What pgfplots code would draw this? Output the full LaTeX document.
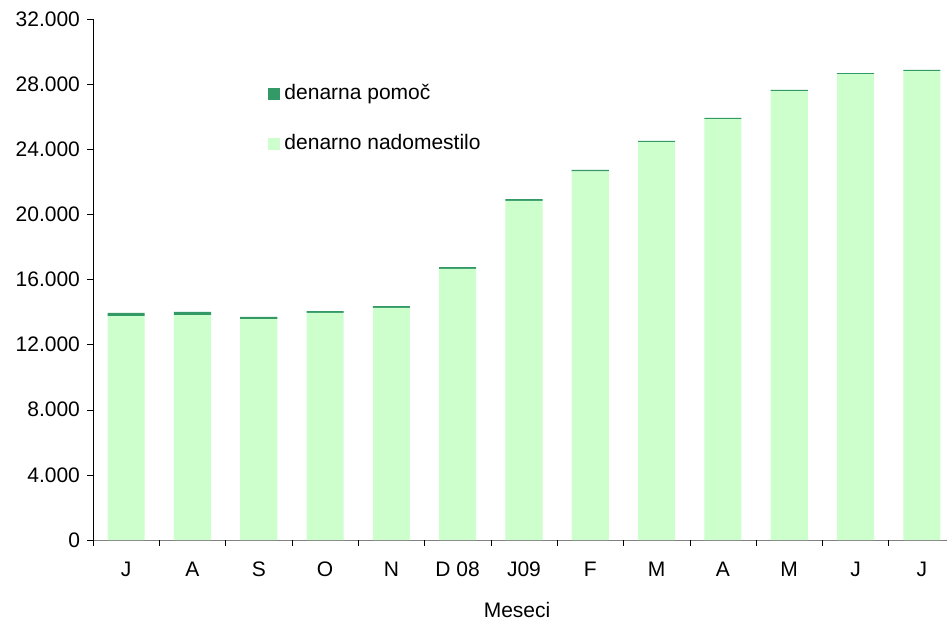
\documentclass[border=0pt]{standalone}
\usepackage{pgfplots}
\pgfplotsset{compat=1.18}
\usepackage{fontspec}
\setmainfont{Liberation Sans}
\definecolor{lightg}{HTML}{CCFFCC}
\definecolor{darkg}{HTML}{339966}
\begin{document}
\begin{tikzpicture}
\begin{axis}[
  at={(0,0)}, anchor=south west,
  scale only axis, width=427pt, height=260.5pt,
  ybar stacked, bar width=0.56,
  xmin=-0.5, xmax=12.38, ymin=0, ymax=32000,
  enlargelimits=false, clip=false,
  scaled y ticks=false,
  axis x line*=bottom, axis y line*=left,
  x axis line style={draw=gray},
  tick align=outside,
  major tick length=3pt,
  xtick={0,...,12},
  xticklabels={J,A,S,O,N,D 08,J09,F,M,A,M,J,J},
  xtick style={draw=none},
  extra x ticks={-0.5,0.5,...,11.5},
  extra x tick style={xtick style={draw=black}, xticklabel={}},
  ytick={0,4000,...,32000},
  yticklabels={0,4.000,8.000,12.000,16.000,20.000,24.000,28.000,32.000},
  ytick style={draw=black},
  tick label style={font=\fontsize{10.5}{12}\selectfont},
  xticklabel style={anchor=base, yshift=-15pt},
  xlabel={Meseci},
  xlabel style={at={(rel axis cs:0.4965,0)}, anchor=center, yshift=-35pt, font=\fontsize{10.5}{12}\selectfont},
  legend style={at={(rel axis cs:0.205,0.883)}, anchor=north west, draw=none, fill=none, inner sep=0pt, row sep=12pt, font=\fontsize{10.5}{12}\selectfont},
  legend cell align=left,
  reverse legend,
]
\addplot[fill=lightg, draw=none, legend image code/.code={\fill[lightg] (0pt,-3pt) rectangle (6pt,3pt);}] coordinates {
(0,13750) (1,13820) (2,13570) (3,13950) (4,14260) (5,16650) (6,20830) (7,22640) (8,24440) (9,25850) (10,27570) (11,28610) (12,28800)};
\addlegendentry{denarno nadomestilo}
\addplot[fill=darkg, draw=none, legend image code/.code={\fill[darkg] (0pt,-3pt) rectangle (6pt,3pt);}] coordinates {
(0,200) (1,190) (2,130) (3,110) (4,110) (5,110) (6,110) (7,90) (8,70) (9,70) (10,70) (11,70) (12,70)};
\addlegendentry{denarna pomoč}
\end{axis}
\pgfresetboundingbox
\path[use as bounding box] (-46.5pt,-41.5pt) rectangle (427pt,270pt);
\end{tikzpicture}
\end{document}
